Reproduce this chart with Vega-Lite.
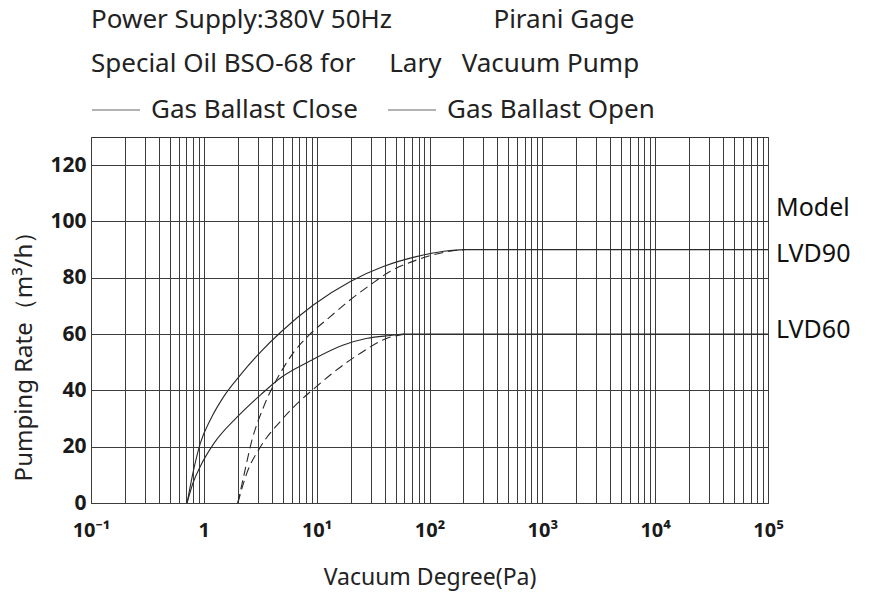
{
  "$schema": "https://vega.github.io/schema/vega-lite/v6.json",
  "autosize": "none",
  "width": 677,
  "height": 366,
  "padding": {"left": 91, "top": 137, "right": 103, "bottom": 93},
  "background": "white",
  "title": {
    "text": ["Power Supply:380V 50Hz\u00a0\u00a0\u00a0\u00a0\u00a0\u00a0\u00a0\u00a0\u00a0\u00a0\u00a0\u00a0\u00a0\u00a0\u00a0Pirani Gage", "Special Oil BSO-68 for\u00a0\u00a0\u00a0\u00a0 Lary\u00a0\u00a0 Vacuum Pump"],
    "anchor": "start",
    "frame": "group",
    "font": "Noto Sans",
    "fontSize": 26,
    "fontWeight": "normal",
    "lineHeight": 44,
    "color": "#222222",
    "offset": 8
  },
  "datasets": {
    "curves": [
      {"p": 0.71, "rate": 0, "model": "LVD90", "ballast": "Gas Ballast Close"},
      {"p": 0.81, "rate": 11.6, "model": "LVD90", "ballast": "Gas Ballast Close"},
      {"p": 0.93, "rate": 21.2, "model": "LVD90", "ballast": "Gas Ballast Close"},
      {"p": 1.14, "rate": 29.5, "model": "LVD90", "ballast": "Gas Ballast Close"},
      {"p": 1.5, "rate": 37.8, "model": "LVD90", "ballast": "Gas Ballast Close"},
      {"p": 2.11, "rate": 45.5, "model": "LVD90", "ballast": "Gas Ballast Close"},
      {"p": 3.16, "rate": 53.5, "model": "LVD90", "ballast": "Gas Ballast Close"},
      {"p": 4.9, "rate": 61, "model": "LVD90", "ballast": "Gas Ballast Close"},
      {"p": 9.4, "rate": 70.4, "model": "LVD90", "ballast": "Gas Ballast Close"},
      {"p": 19.9, "rate": 78.7, "model": "LVD90", "ballast": "Gas Ballast Close"},
      {"p": 39, "rate": 84, "model": "LVD90", "ballast": "Gas Ballast Close"},
      {"p": 78, "rate": 87.6, "model": "LVD90", "ballast": "Gas Ballast Close"},
      {"p": 134, "rate": 89.4, "model": "LVD90", "ballast": "Gas Ballast Close"},
      {"p": 205, "rate": 90, "model": "LVD90", "ballast": "Gas Ballast Close"},
      {"p": 100000, "rate": 90, "model": "LVD90", "ballast": "Gas Ballast Close"},

      {"p": 0.71, "rate": 0, "model": "LVD60", "ballast": "Gas Ballast Close"},
      {"p": 0.8, "rate": 7, "model": "LVD60", "ballast": "Gas Ballast Close"},
      {"p": 0.93, "rate": 13, "model": "LVD60", "ballast": "Gas Ballast Close"},
      {"p": 1.22, "rate": 21, "model": "LVD60", "ballast": "Gas Ballast Close"},
      {"p": 1.97, "rate": 30.5, "model": "LVD60", "ballast": "Gas Ballast Close"},
      {"p": 3.2, "rate": 38.5, "model": "LVD60", "ballast": "Gas Ballast Close"},
      {"p": 4.8, "rate": 44.5, "model": "LVD60", "ballast": "Gas Ballast Close"},
      {"p": 8.8, "rate": 50.5, "model": "LVD60", "ballast": "Gas Ballast Close"},
      {"p": 17, "rate": 56, "model": "LVD60", "ballast": "Gas Ballast Close"},
      {"p": 28, "rate": 58.5, "model": "LVD60", "ballast": "Gas Ballast Close"},
      {"p": 45, "rate": 59.5, "model": "LVD60", "ballast": "Gas Ballast Close"},
      {"p": 60, "rate": 60, "model": "LVD60", "ballast": "Gas Ballast Close"},
      {"p": 100000, "rate": 60, "model": "LVD60", "ballast": "Gas Ballast Close"},

      {"p": 2.0, "rate": 0, "model": "LVD90", "ballast": "Gas Ballast Open"},
      {"p": 2.25, "rate": 9.3, "model": "LVD90", "ballast": "Gas Ballast Open"},
      {"p": 2.67, "rate": 22.3, "model": "LVD90", "ballast": "Gas Ballast Open"},
      {"p": 3.39, "rate": 34.2, "model": "LVD90", "ballast": "Gas Ballast Open"},
      {"p": 4.9, "rate": 47, "model": "LVD90", "ballast": "Gas Ballast Open"},
      {"p": 6.25, "rate": 53.5, "model": "LVD90", "ballast": "Gas Ballast Open"},
      {"p": 8.5, "rate": 59.5, "model": "LVD90", "ballast": "Gas Ballast Open"},
      {"p": 13.2, "rate": 66.2, "model": "LVD90", "ballast": "Gas Ballast Open"},
      {"p": 19.9, "rate": 72.2, "model": "LVD90", "ballast": "Gas Ballast Open"},
      {"p": 29.9, "rate": 77.5, "model": "LVD90", "ballast": "Gas Ballast Open"},
      {"p": 45, "rate": 82.3, "model": "LVD90", "ballast": "Gas Ballast Open"},
      {"p": 78, "rate": 86.4, "model": "LVD90", "ballast": "Gas Ballast Open"},
      {"p": 150, "rate": 89.4, "model": "LVD90", "ballast": "Gas Ballast Open"},
      {"p": 205, "rate": 90, "model": "LVD90", "ballast": "Gas Ballast Open"},

      {"p": 2.0, "rate": 0, "model": "LVD60", "ballast": "Gas Ballast Open"},
      {"p": 2.4, "rate": 10.5, "model": "LVD60", "ballast": "Gas Ballast Open"},
      {"p": 3.17, "rate": 19.9, "model": "LVD60", "ballast": "Gas Ballast Open"},
      {"p": 4.77, "rate": 29, "model": "LVD60", "ballast": "Gas Ballast Open"},
      {"p": 7.0, "rate": 36, "model": "LVD60", "ballast": "Gas Ballast Open"},
      {"p": 9.4, "rate": 40.5, "model": "LVD60", "ballast": "Gas Ballast Open"},
      {"p": 14.2, "rate": 46.5, "model": "LVD60", "ballast": "Gas Ballast Open"},
      {"p": 24.4, "rate": 53.2, "model": "LVD60", "ballast": "Gas Ballast Open"},
      {"p": 42, "rate": 58.5, "model": "LVD60", "ballast": "Gas Ballast Open"},
      {"p": 60, "rate": 60, "model": "LVD60", "ballast": "Gas Ballast Open"}
    ],
    "labels": [
      {"p": 100000, "rate": 104.8, "label": "Model"},
      {"p": 100000, "rate": 88.5, "label": "LVD90"},
      {"p": 100000, "rate": 61.5, "label": "LVD60"}
    ]
  },
  "layer": [
    {
      "data": {"name": "curves"},
      "transform": [{"filter": "datum.ballast == 'Gas Ballast Close'"}],
      "mark": {"type": "line", "strokeWidth": 1.1, "color": "#2a2a2a", "clip": true, "interpolate": "monotone"},
      "encoding": {
        "x": {
          "field": "p", "type": "quantitative",
          "scale": {"type": "log", "domain": [0.1, 100000], "nice": false},
          "axis": {
            "title": "Vacuum Degree(Pa)",
            "values": [0.1,0.2,0.3,0.4,0.5,0.6,0.7,0.8,0.9,1,2,3,4,5,6,7,8,9,10,20,30,40,50,60,70,80,90,100,200,300,400,500,600,700,800,900,1000,2000,3000,4000,5000,6000,7000,8000,9000,10000,20000,30000,40000,50000,60000,70000,80000,90000,100000],
            "labelExpr": "datum.value == 0.1 ? '10\u207b\u00b9' : datum.value == 1 ? '1' : datum.value == 10 ? '10\u00b9' : datum.value == 100 ? '10\u00b2' : datum.value == 1000 ? '10\u00b3' : datum.value == 10000 ? '10\u2074' : datum.value == 100000 ? '10\u2075' : ''",
            "labelFontSize": 20,
            "labelPadding": 17,
            "titlePadding": 26,
            "titleFontSize": 23,
            "labelOverlap": false,
            "labelFlush": false
          }
        },
        "y": {
          "field": "rate", "type": "quantitative",
          "scale": {"domain": [0, 130], "nice": false},
          "axis": {
            "title": "Pumping Rate\uff08m\u00b3/h\uff09",
            "values": [0,10,20,30,40,50,60,70,80,90,100,110,120,130],
            "labelExpr": "datum.value % 20 == 0 ? datum.label : ''",
            "labelFontSize": 21,
            "labelPadding": 5,
            "titlePadding": 13,
            "titleFontSize": 24,
            "titleY": 213
          }
        },
        "detail": {"field": "model", "type": "nominal"}
      }
    },
    {
      "data": {"name": "curves"},
      "transform": [{"filter": "datum.ballast == 'Gas Ballast Open'"}],
      "mark": {"type": "line", "strokeWidth": 1.1, "color": "#2a2a2a", "clip": true, "interpolate": "monotone", "strokeDash": [9, 5]},
      "encoding": {
        "x": {"field": "p", "type": "quantitative"},
        "y": {"field": "rate", "type": "quantitative"},
        "detail": {"field": "model", "type": "nominal"}
      }
    },
    {
      "data": {"name": "curves"},
      "mark": {"type": "line", "opacity": 0, "clip": true},
      "encoding": {
        "x": {"field": "p", "type": "quantitative"},
        "y": {"field": "rate", "type": "quantitative"},
        "detail": {"field": "model", "type": "nominal"},
        "color": {
          "field": "ballast", "type": "nominal",
          "scale": {"domain": ["Gas Ballast Close", "Gas Ballast Open"], "range": ["#9a9a9a", "#9a9a9a"]},
          "legend": {
            "title": null,
            "orient": "top",
            "direction": "horizontal",
            "symbolType": "stroke",
            "symbolSize": 2304,
            "symbolStrokeWidth": 1.5,
            "symbolOpacity": 1,
            "labelFont": "Noto Sans",
            "labelFontSize": 26,
            "labelLimit": 0,
            "labelColor": "#222222",
            "labelOffset": 10,
            "columnPadding": 27,
            "padding": 0,
            "offset": 14
          }
        }
      }
    },
    {
      "data": {"name": "labels"},
      "mark": {"type": "text", "align": "left", "baseline": "middle", "dx": 8, "font": "Noto Sans", "fontSize": 25, "color": "#111111"},
      "encoding": {
        "x": {"field": "p", "type": "quantitative"},
        "y": {"field": "rate", "type": "quantitative"},
        "text": {"field": "label"}
      }
    }
  ],
  "config": {
    "view": {"stroke": "#333333", "strokeWidth": 1},
    "axis": {
      "grid": true,
      "gridColor": "#3c3c3c",
      "gridOpacity": 1,
      "gridWidth": 1,
      "ticks": false,
      "domain": false,
      "labelFont": "Noto Sans",
      "labelFontWeight": "bold",
      "labelColor": "#1a1a1a",
      "titleFont": "Noto Sans",
      "titleFontWeight": "normal",
      "titleColor": "#222222"
    }
  }
}
